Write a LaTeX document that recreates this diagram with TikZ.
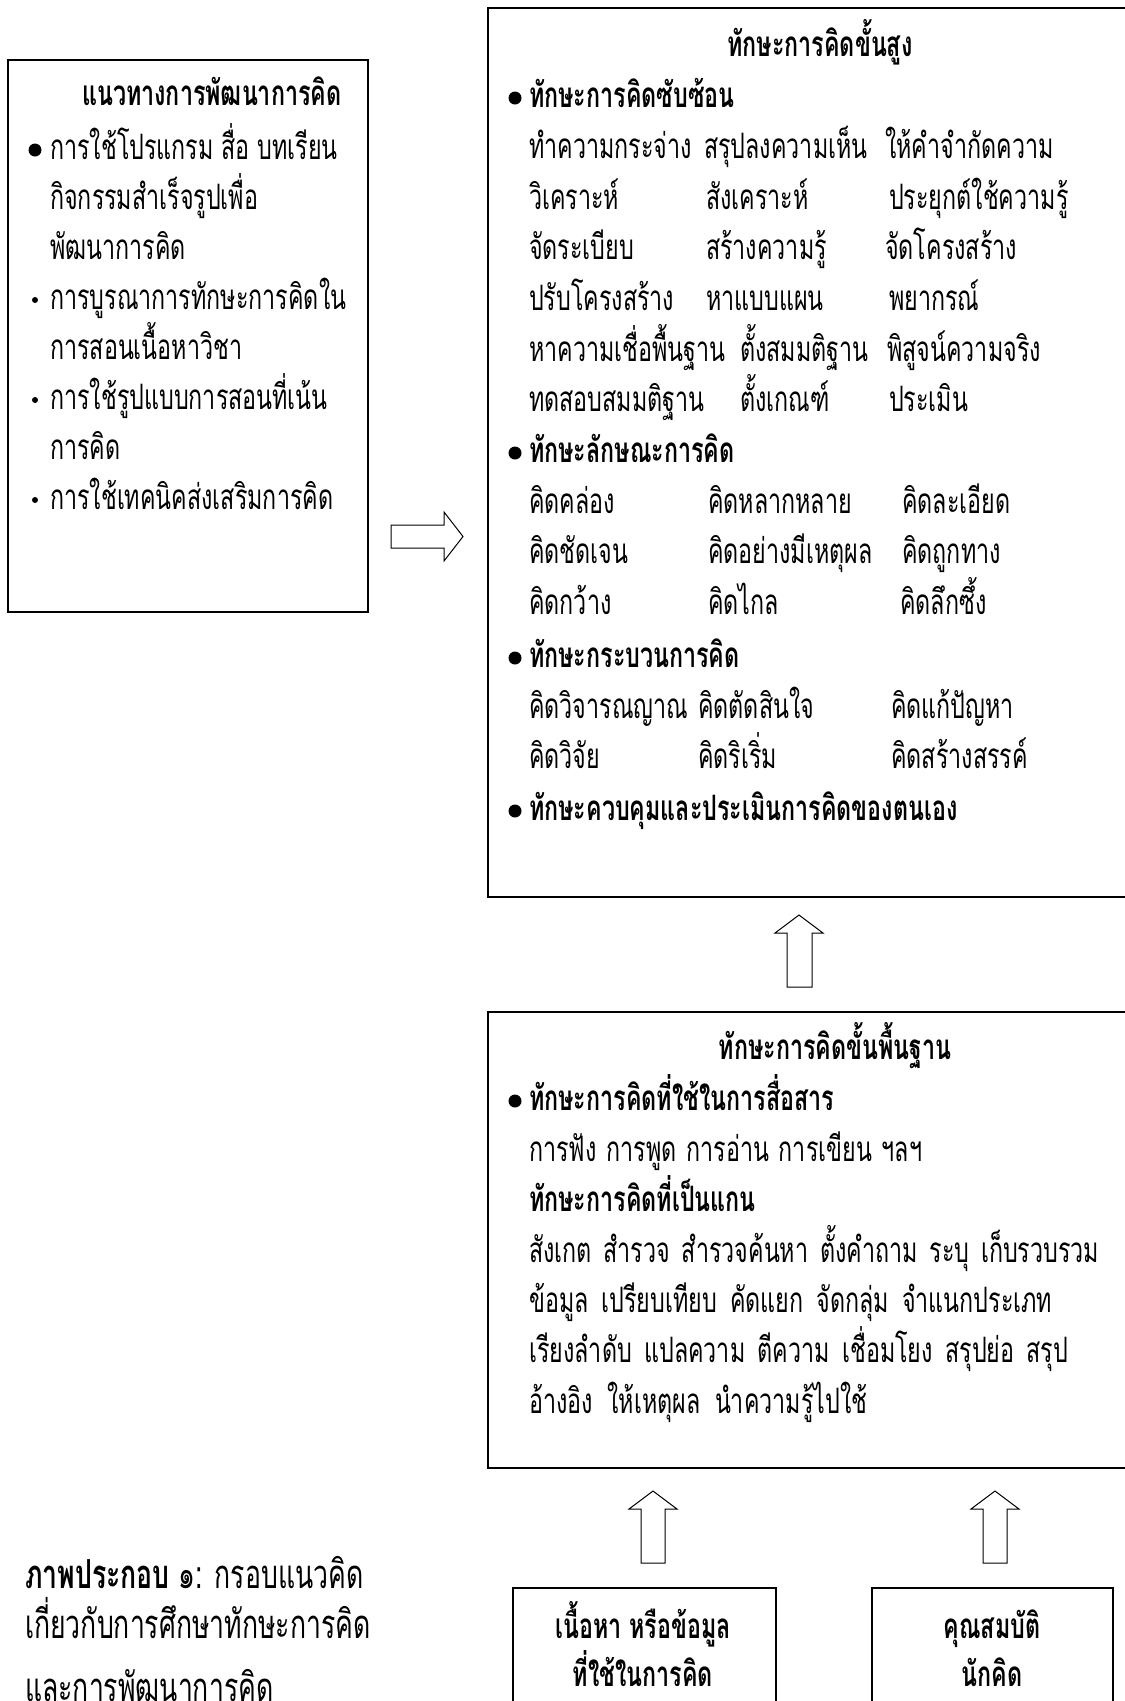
\documentclass[tikz,border=0pt]{standalone}
\usepackage{fontspec}
\setmainfont{Loma}[Script=Thai,FakeStretch=0.665]
\newcommand\tsz{\fontsize{35pt}{40pt}\selectfont}
\newcommand\capsz{\fontsize{40pt}{46pt}\selectfont}
\begin{document}
\begin{tikzpicture}[x=1pt,y=-1pt,
  frame/.style={draw=black, line width=1.5pt, inner sep=0pt, fill=none},
  tx/.style={anchor=base west, inner sep=0pt, font=\tsz},
  captx/.style={anchor=base west, inner sep=0pt, font=\capsz},
  bx/.style={anchor=base west, inner sep=0pt, font=\tsz\bfseries},
  cbx/.style={anchor=base, inner sep=0pt, font=\tsz\bfseries},
  bigdot/.style={circle, fill=black, inner sep=0pt, minimum size=13pt},
  smalldot/.style={circle, fill=black, inner sep=0pt, minimum size=6pt},
  blockarrow/.style={draw=black, line width=1pt, fill=white, line join=miter}]
\useasboundingbox (0,0) rectangle (1125,1701);
\clip (0,0) rectangle (1125,1701);

% boxes
\node[frame, anchor=north west, minimum width=360pt, minimum height=552pt] (guide) at (7,59) {};
\node[frame, anchor=north west, minimum width=700pt, minimum height=889pt] (high) at (487,7) {};
\node[frame, anchor=north west, minimum width=700pt, minimum height=456pt] (basic) at (487,1011) {};
\node[frame, anchor=north west, minimum width=263pt, minimum height=200pt] (content) at (512,1587) {};
\node[frame, anchor=north west, minimum width=241pt, minimum height=200pt] (thinker) at (871,1587) {};

% block arrows
\draw[blockarrow] (391,525) -- (444,525) -- (444,512) -- (463,536.5) -- (444,561) -- (444,548) -- (391,548) -- cycle;
\draw[blockarrow] (787,987) -- (787,933) -- (775,933) -- (799,915) -- (823,933) -- (812,933) -- (812,987) -- cycle;
\draw[blockarrow] (641,1563) -- (641,1509) -- (629,1509) -- (653,1491) -- (677,1509) -- (665,1509) -- (665,1563) -- cycle;
\draw[blockarrow] (983,1563) -- (983,1509) -- (971,1509) -- (995,1491) -- (1019,1509) -- (1007,1509) -- (1007,1563) -- cycle;

% left box
\node[bx] (gtitle) at (82,105) {แนวทางการพัฒนาการคิด};
\node[bigdot] (gd1) at (35,150) {};
\node[tx] (g1) at (50,159) {การใช้โปรแกรม สื่อ บทเรียน};
\node[tx] (g2) at (50,209) {กิจกรรมสำเร็จรูปเพื่อ};
\node[tx] (g3) at (50,259) {พัฒนาการคิด};
\node[smalldot] (gd2) at (35,300) {};
\node[tx] (g4) at (50,309) {การบูรณาการทักษะการคิดใน};
\node[tx] (g5) at (50,359) {การสอนเนื้อหาวิชา};
\node[smalldot] (gd3) at (35,400) {};
\node[tx] (g6) at (50,409) {การใช้รูปแบบการสอนที่เน้น};
\node[tx] (g7) at (50,459) {การคิด};
\node[smalldot] (gd4) at (35,500) {};
\node[tx] (g8) at (50,509) {การใช้เทคนิคส่งเสริมการคิด};

% top box
\node[cbx] (htitle) at (820,56) {ทักษะการคิดขั้นสูง};
\node[bigdot] (hd1) at (515,98) {};
\node[bx] (h1) at (529,107) {ทักษะการคิดซับซ้อน};
\node[tx] (a11) at (529,158) {ทำความกระจ่าง};
\node[tx] (a12) at (704,158) {สรุปลงความเห็น};
\node[tx] (a13) at (885,158) {ให้คำจำกัดความ};
\node[tx] (a21) at (529,209) {วิเคราะห์};
\node[tx] (a22) at (706,209) {สังเคราะห์};
\node[tx] (a23) at (889,209) {ประยุกต์ใช้ความรู้};
\node[tx] (a31) at (529,259) {จัดระเบียบ};
\node[tx] (a32) at (706,259) {สร้างความรู้};
\node[tx] (a33) at (885,259) {จัดโครงสร้าง};
\node[tx] (a41) at (529,310) {ปรับโครงสร้าง};
\node[tx] (a42) at (706,310) {หาแบบแผน};
\node[tx] (a43) at (889,310) {พยากรณ์};
\node[tx] (a51) at (529,361) {หาความเชื่อพื้นฐาน};
\node[tx] (a52) at (740,361) {ตั้งสมมติฐาน};
\node[tx] (a53) at (887,361) {พิสูจน์ความจริง};
\node[tx] (a61) at (529,411) {ทดสอบสมมติฐาน};
\node[tx] (a62) at (740,411) {ตั้งเกณฑ์};
\node[tx] (a63) at (889,411) {ประเมิน};
\node[bigdot] (hd2) at (515,453) {};
\node[bx] (h2) at (529,462) {ทักษะลักษณะการคิด};
\node[tx] (b11) at (529,513) {คิดคล่อง};
\node[tx] (b12) at (708,513) {คิดหลากหลาย};
\node[tx] (b13) at (902,513) {คิดละเอียด};
\node[tx] (b21) at (529,563) {คิดชัดเจน};
\node[tx] (b22) at (708,563) {คิดอย่างมีเหตุผล};
\node[tx] (b23) at (902,563) {คิดถูกทาง};
\node[tx] (b31) at (529,614) {คิดกว้าง};
\node[tx] (b32) at (708,614) {คิดไกล};
\node[tx] (b33) at (900,614) {คิดลึกซึ้ง};
\node[bigdot] (hd3) at (515,658) {};
\node[bx] (h3) at (529,667) {ทักษะกระบวนการคิด};
\node[tx] (c11) at (529,718) {คิดวิจารณญาณ};
\node[tx] (c12) at (698,718) {คิดตัดสินใจ};
\node[tx] (c13) at (891,718) {คิดแก้ปัญหา};
\node[tx] (c21) at (529,768) {คิดวิจัย};
\node[tx] (c22) at (698,768) {คิดริเริ่ม};
\node[tx] (c23) at (891,768) {คิดสร้างสรรค์};
\node[bigdot] (hd4) at (515,811) {};
\node[bx] (h4) at (529,820) {ทักษะควบคุมและประเมินการคิดของตนเอง};

% lower box
\node[cbx] (btitle) at (835,1059) {ทักษะการคิดขั้นพื้นฐาน};
\node[bigdot] (bd1) at (515,1101) {};
\node[bx] (k1) at (529,1110) {ทักษะการคิดที่ใช้ในการสื่อสาร};
\node[tx] (k2) at (529,1161) {\makebox[393pt][s]{การฟัง การพูด การอ่าน การเขียน ฯลฯ}};
\node[bx] (k3) at (529,1211) {ทักษะการคิดที่เป็นแกน};
\node[tx] (k4) at (529,1262) {\makebox[570pt][s]{สังเกต สำรวจ สำรวจค้นหา ตั้งคำถาม ระบุ เก็บรวบรวม}};
\node[tx] (k5) at (529,1312) {\makebox[523pt][s]{ข้อมูล เปรียบเทียบ คัดแยก จัดกลุ่ม จำแนกประเภท}};
\node[tx] (k6) at (529,1362) {\makebox[539pt][s]{เรียงลำดับ แปลความ ตีความ เชื่อมโยง สรุปย่อ สรุป}};
\node[tx] (k7) at (529,1413) {\makebox[338pt][s]{อ้างอิง ให้เหตุผล นำความรู้ไปใช้}};

% bottom boxes
\node[cbx] (ct1) at (643,1638) {เนื้อหา หรือข้อมูล};
\node[cbx] (ct2) at (643,1686) {ที่ใช้ในการคิด};
\node[cbx] (th1) at (992,1638) {คุณสมบัติ};
\node[cbx] (th2) at (992,1686) {นักคิด};

% caption
\node[captx] (cap1) at (25,1588) {\textbf{ภาพประกอบ} ๑: กรอบแนวคิด};
\node[captx] (cap2) at (25,1638) {เกี่ยวกับการศึกษาทักษะการคิด};
\node[captx] (cap3) at (25,1701) {และการพัฒนาการคิด};
\end{tikzpicture}
\end{document}
